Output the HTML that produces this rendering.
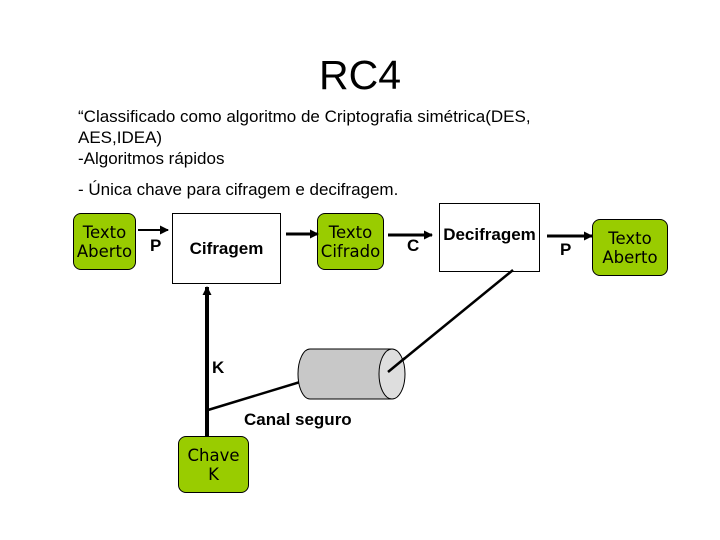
<!DOCTYPE html>
<html><head><meta charset="utf-8"><style>
body{margin:0;background:#fff;}
.p{position:absolute;font-family:"Liberation Sans",sans-serif;color:#000;white-space:nowrap;}
.g{position:absolute;background:#99cc00;border:1px solid #000;border-radius:8px;font-family:"DejaVu Sans",sans-serif;font-size:16.5px;text-align:center;line-height:19px;display:flex;align-items:center;justify-content:center;color:#000;}
.b{position:absolute;background:#fff;border:1px solid #000;font-family:"Liberation Sans",sans-serif;font-weight:bold;font-size:17px;}
</style></head><body>
<div style="position:relative;width:720px;height:540px;overflow:hidden">
<div class="p" style="left:0;width:720px;text-align:center;top:52px;font-size:41px">RC4</div>
<div class="p" style="left:78px;top:106px;font-size:17px;line-height:21px">“Classificado como algoritmo de Criptografia simétrica(DES,<br>AES,IDEA)<br>-Algoritmos rápidos</div>
<div class="p" style="left:78px;top:180px;font-size:17px">- Única chave para cifragem e decifragem.</div>

<div class="g" style="left:73px;top:213px;width:61px;height:55px">Texto<br>Aberto</div>
<div class="b" style="left:172px;top:213px;width:107px;height:69px;line-height:69px;text-align:center">Cifragem</div>
<div class="g" style="left:317px;top:213px;width:65px;height:55px">Texto<br>Cifrado</div>
<div class="b" style="left:439px;top:203px;width:99px;height:67px;line-height:62px;text-align:center">Decifragem</div>
<div class="g" style="left:592px;top:219px;width:74px;height:55px">Texto<br>Aberto</div>
<div class="g" style="left:178px;top:436px;width:69px;height:55px">Chave<br>K</div>

<svg style="position:absolute;left:0;top:0" width="720" height="540">
<defs><marker id="a" markerWidth="9" markerHeight="9" refX="8" refY="4.5" orient="auto" markerUnits="userSpaceOnUse"><path d="M0,0L9,4.5L0,9z"/></marker></defs>
<g stroke="#000" stroke-width="3">
<line x1="138" y1="230" x2="168" y2="230" stroke-width="2" marker-end="url(#a)"/>
<line x1="286" y1="234" x2="318" y2="234" marker-end="url(#a)"/>
<line x1="388" y1="235" x2="432" y2="235" marker-end="url(#a)"/>
<line x1="547" y1="236" x2="592" y2="236" marker-end="url(#a)"/>
<line x1="207" y1="437" x2="207" y2="287" stroke-width="4" marker-end="url(#a)"/>
<line x1="208" y1="410" x2="300" y2="382" stroke-width="2.5"/>
<line x1="388" y1="372" x2="513" y2="270" stroke-width="2.5"/>
</g>
<path d="M310,349 H392 V399 H310 A12,25 0 0 1 310,349 Z" fill="#c8c8c8" stroke="#000"/>
<ellipse cx="392" cy="374" rx="13" ry="25" fill="#dedede" stroke="#000"/>
<line x1="388" y1="372" x2="405" y2="358" stroke="#000" stroke-width="2.5"/>
</svg>
<div class="p" style="left:150px;top:236px;font-size:17px;font-weight:bold">P</div>
<div class="p" style="left:407px;top:236px;font-size:17px;font-weight:bold">C</div>
<div class="p" style="left:560px;top:240px;font-size:17px;font-weight:bold">P</div>
<div class="p" style="left:212px;top:358px;font-size:17px;font-weight:bold">K</div>
<div class="p" style="left:244px;top:410px;font-size:17px;font-weight:bold">Canal seguro</div>
</div>
</body></html>
